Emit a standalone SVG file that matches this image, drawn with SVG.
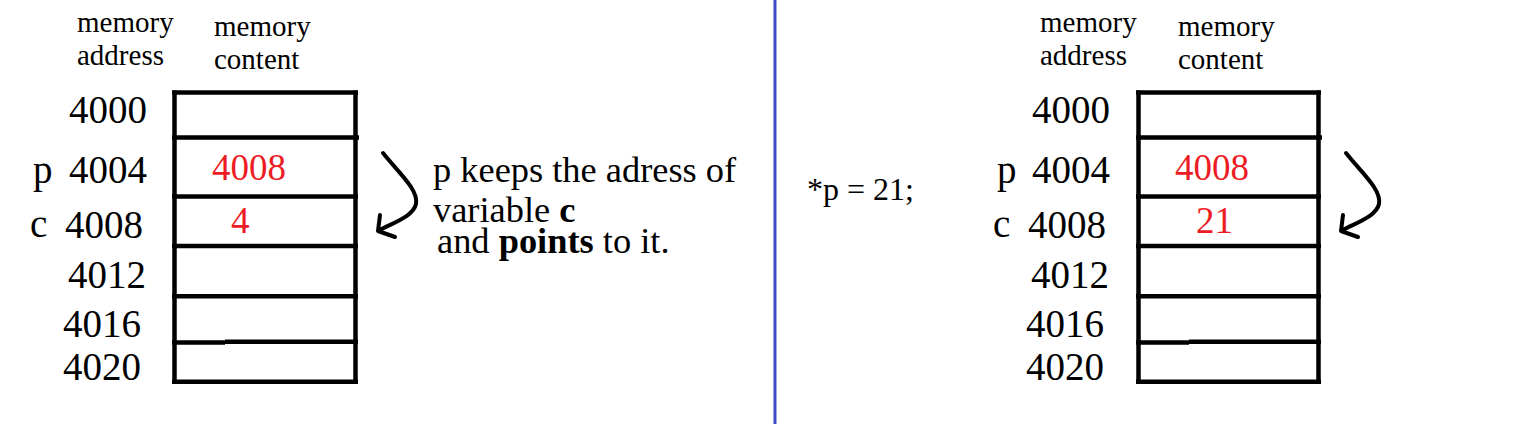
<svg xmlns="http://www.w3.org/2000/svg" width="1519" height="424" viewBox="0 0 1519 424">
<style>
  .t { font-family: "Liberation Serif", "Times New Roman", serif; fill: #000; }
  .hdr { font-size: 29px; }
  .addr { font-size: 39px; }
  .val { font-size: 37px; fill: #ED1C24; }
  .note { font-size: 36.4px; }
  .cell { stroke: #000; stroke-width: 4.5; fill: none; }
  .arrow { stroke: #000; stroke-width: 4; fill: none; stroke-linecap: round; stroke-linejoin: round; }
</style>
<rect width="1519" height="424" fill="#fff"/>

<g id="divider">
  <line x1="775" y1="0" x2="775" y2="424" stroke="#3F48CC" stroke-width="3"/>
</g>

<g id="left-panel">
  <g id="left-headers">
    <text class="t hdr" x="77" y="32">memory</text>
    <text class="t hdr" x="77" y="65">address</text>
    <text class="t hdr" x="214" y="36">memory</text>
    <text class="t hdr" x="214" y="69">content</text>
  </g>
  <g id="left-memory">
    <line class="cell" x1="174.5" y1="90.5" x2="174.5" y2="384"/>
    <line class="cell" x1="355.5" y1="90.5" x2="355.5" y2="384"/>
    <line class="cell" x1="172" y1="92.5" x2="358" y2="92.5"/>
    <line class="cell" x1="172" y1="137.5" x2="359" y2="137.5"/>
    <line class="cell" x1="172" y1="196.5" x2="358" y2="196.5"/>
    <line class="cell" x1="172" y1="246" x2="358" y2="246"/>
    <line class="cell" x1="172" y1="296.3" x2="358" y2="296.3"/>
    <line class="cell" x1="172" y1="342.5" x2="225" y2="342.5"/>
    <line class="cell" x1="225" y1="341.7" x2="358" y2="341.7"/>
    <line class="cell" x1="172" y1="381.7" x2="358" y2="381.7"/>
  </g>
  <g id="left-addresses">
    <text class="t addr" x="69" y="123">4000</text>
    <text class="t addr" x="33" y="183">p</text>
    <text class="t addr" x="69" y="183">4004</text>
    <text class="t addr" x="30" y="237">c</text>
    <text class="t addr" x="65" y="238">4008</text>
    <text class="t addr" x="68" y="288">4012</text>
    <text class="t addr" x="63" y="337">4016</text>
    <text class="t addr" x="63" y="380">4020</text>
  </g>
  <g id="left-values">
    <text class="t val" x="212" y="180">4008</text>
    <text class="t val" x="231" y="233">4</text>
  </g>
  <g id="left-note">
    <text class="t note" x="433" y="182">p keeps the adress of</text>
    <text class="t note" x="433" y="222">variable <tspan font-weight="bold">c</tspan></text>
    <text class="t note" x="437" y="253">and <tspan font-weight="bold">points</tspan> to it.</text>
  </g>
</g>

<g id="statement">
  <text class="t" x="807" y="200" font-size="32">*p = 21;</text>
</g>

<g id="right-panel">
  <g id="right-headers">
    <text class="t hdr" x="1040" y="32">memory</text>
    <text class="t hdr" x="1040" y="65">address</text>
    <text class="t hdr" x="1178" y="36">memory</text>
    <text class="t hdr" x="1178" y="69">content</text>
  </g>
  <g id="right-memory">
    <line class="cell" x1="1138.5" y1="90.5" x2="1138.5" y2="384"/>
    <line class="cell" x1="1318.5" y1="90.5" x2="1318.5" y2="384"/>
    <line class="cell" x1="1136" y1="92.5" x2="1321" y2="92.5"/>
    <line class="cell" x1="1136" y1="137.5" x2="1322" y2="137.5"/>
    <line class="cell" x1="1136" y1="196.5" x2="1321" y2="196.5"/>
    <line class="cell" x1="1136" y1="246" x2="1321" y2="246"/>
    <line class="cell" x1="1136" y1="296.3" x2="1321" y2="296.3"/>
    <line class="cell" x1="1136" y1="342.5" x2="1189" y2="342.5"/>
    <line class="cell" x1="1189" y1="341.7" x2="1321" y2="341.7"/>
    <line class="cell" x1="1136" y1="381.7" x2="1321" y2="381.7"/>
  </g>
  <g id="right-addresses">
    <text class="t addr" x="1032" y="123">4000</text>
    <text class="t addr" x="997" y="183">p</text>
    <text class="t addr" x="1032" y="183">4004</text>
    <text class="t addr" x="993" y="237">c</text>
    <text class="t addr" x="1028" y="238">4008</text>
    <text class="t addr" x="1031" y="288">4012</text>
    <text class="t addr" x="1026" y="337">4016</text>
    <text class="t addr" x="1026" y="380">4020</text>
  </g>
  <g id="right-values">
    <text class="t val" x="1175" y="180">4008</text>
    <text class="t val" x="1196" y="233" font-size="32">21</text>
  </g>
</g>

<g id="connectors">
  <path class="arrow" d="M383,153 C398,172 419,190 416,204 C413,217 392,223 378,231 M380,215 L378,231 L395,237"/>
  <path class="arrow" transform="translate(963,0)" d="M383,153 C398,172 419,190 416,204 C413,217 392,223 378,231 M380,215 L378,231 L395,237"/>
</g>
</svg>
